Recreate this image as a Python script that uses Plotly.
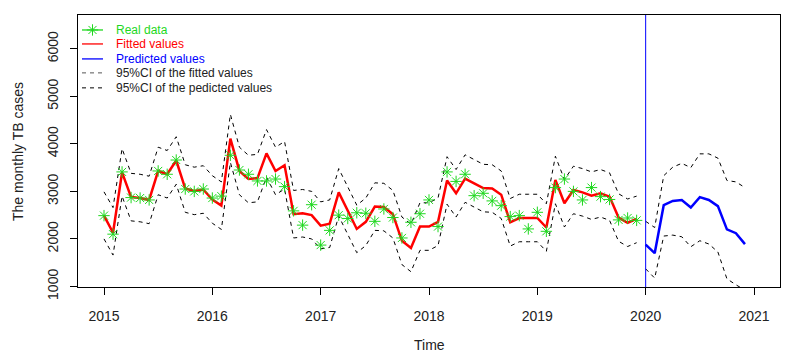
import plotly.graph_objects as go

# monthly TB cases, Jan 2015 - Dec 2019
real_cases = [2490, 2100, 3410, 2870, 2860, 2820, 3430, 3360, 3660, 3050, 3000, 3050,
              2860, 2900, 3760, 3450, 3360, 3220, 3220, 3260, 3100, 2590, 2290, 2720,
              1870, 2180, 2500, 2430, 2550, 2540, 2370, 2630, 2450, 2020, 2350, 2530,
              2820, 2260, 3410, 3210, 3360, 2910, 2960, 2800, 2700, 2470, 2490, 2210,
              2560, 2160, 3080, 3260, 3000, 2820, 3080, 2890, 2830, 2400, 2440, 2390]

fitted = [2490, 2130, 3400, 2880, 2860, 2820, 3430, 3360, 3650, 3060, 3010, 3040,
          2830, 2700, 4110, 3430, 3260, 3280, 3800, 3430, 3550, 2520, 2540, 2500,
          2280, 2320, 2980, 2580, 2210, 2360, 2680, 2670, 2520, 1960, 1810, 2260,
          2260, 2360, 3230, 2960, 3270, 3170, 3070, 3060, 2930, 2350, 2440, 2440,
          2440, 2240, 3240, 2750, 3030, 2980, 2910, 2960, 2890, 2450, 2340, 2420]

fitted_upper = [2990, 2660, 3900, 3380, 3360, 3320, 3930, 3860, 4150, 3560, 3510, 3540,
                3330, 3200, 4620, 3930, 3760, 3780, 4300, 3930, 4050, 3020, 3040, 3000,
                2780, 2820, 3480, 3080, 2710, 2860, 3180, 3170, 3020, 2460, 2310, 2760,
                2760, 2860, 3730, 3460, 3770, 3670, 3570, 3560, 3430, 2850, 2940, 2940,
                2940, 2740, 3740, 3250, 3530, 3480, 3410, 3460, 3390, 2950, 2840, 2900]

fitted_lower = [2000, 1660, 2900, 2380, 2360, 2320, 2930, 2860, 3150, 2560, 2510, 2540,
                2330, 2200, 3610, 2930, 2760, 2780, 3300, 2930, 3050, 2020, 2040, 2000,
                1790, 1820, 2480, 2080, 1710, 1860, 2180, 2170, 2020, 1460, 1310, 1760,
                1760, 1860, 2730, 2460, 2770, 2670, 2570, 2560, 2430, 1850, 1940, 1940,
                1940, 1740, 2740, 2250, 2530, 2480, 2410, 2460, 2390, 1950, 1840, 1920]

# forecast, Jan 2020 - Dec 2020
predicted = [1880, 1700, 2710, 2800, 2820, 2660, 2880, 2820, 2690, 2200, 2120, 1890]
pred_upper = [2370, 2240, 3330, 3510, 3590, 3500, 3790, 3790, 3700, 3230, 3200, 3080]
pred_lower = [1370, 1175, 2060, 2080, 2045, 1835, 1962, 1893, 1725, 1160, 1035, 920]

t_fit = [2015 + m / 12 for m in range(len(fitted))]
t_pred = [2020 + m / 12 for m in range(len(predicted))]

year_ticks = [2015, 2016, 2017, 2018, 2019, 2020, 2021]
case_ticks = [1000, 2000, 3000, 4000, 5000, 6000]

GREEN = "#1ed81e"
FONT = "Liberation Sans, Arial, sans-serif"
dash = "4px,4px"

fig = go.Figure()

for ys in (fitted_upper, fitted_lower):
    fig.add_trace(go.Scatter(x=t_fit, y=ys, mode="lines",
                             line=dict(color="black", width=1, dash=dash)))
for ys in (pred_upper, pred_lower):
    fig.add_trace(go.Scatter(x=t_pred, y=ys, mode="lines",
                             line=dict(color="black", width=1, dash=dash)))

fig.add_trace(go.Scatter(x=t_fit, y=fitted, mode="lines",
                         line=dict(color="red", width=2.5)))
fig.add_trace(go.Scatter(x=t_fit, y=real_cases, mode="markers",
                         marker=dict(symbol="asterisk", size=9.5, color=GREEN,
                                     line=dict(color=GREEN, width=1))))
fig.add_trace(go.Scatter(x=t_pred, y=predicted, mode="lines",
                         line=dict(color="blue", width=2.5)))

fig.add_vline(x=2020, line=dict(color="blue", width=1))

# hand-drawn legend (R style, no box) on an overlay axis measured in pixels
leg_rows = [15, 29, 44, 58, 73]
leg_text = ["Real data", "Fitted values", "Predicted values",
            "95%CI of the fitted values", "95%CI of the pedicted values"]
leg_col = [GREEN, "red", "blue", "#222222", "#222222"]
leg_key_col = [GREEN, "red", "blue", "#555555", "black"]
for i, (yy, txt) in enumerate(zip(leg_rows, leg_text)):
    fig.add_trace(go.Scatter(
        x=[4, 25], y=[yy, yy], mode="lines", xaxis="x2", yaxis="y2",
        line=dict(color=leg_key_col[i], width=1.3 if i < 3 else 1,
                  dash="solid" if i < 3 else dash)))
    fig.add_annotation(x=36, y=yy, xref="x2", yref="y2", text=txt, showarrow=False,
                       xanchor="left", yanchor="middle",
                       font=dict(size=12, color=leg_col[i], family=FONT))
fig.add_trace(go.Scatter(x=[14.5], y=[leg_rows[0]], mode="markers", xaxis="x2", yaxis="y2",
                         marker=dict(symbol="asterisk", size=9.5, color=GREEN,
                                     line=dict(color=GREEN, width=1))))

axis_common = dict(showgrid=False, zeroline=False, showline=True, mirror=True,
                   automargin=False,
                   linecolor="black", linewidth=1, ticks="outside", ticklen=7,
                   tickcolor="black", tickfont=dict(size=14, color="#222222", family=FONT))

# page body adds an 8px offset, so the figure is 8px smaller and shifted back
fig.update_layout(
    width=781, height=354,
    margin=dict(l=70, r=9, t=7, b=74.5),
    paper_bgcolor="white", plot_bgcolor="white",
    showlegend=False,
    xaxis=dict(range=[2014.76, 2021.24], tickvals=year_ticks, ticklabelstandoff=9,
               **axis_common),
    yaxis=dict(range=[988, 6712], tickvals=case_ticks, tickangle=-90,
               ticklabelstandoff=6, **axis_common),
    xaxis2=dict(range=[0, 702], overlaying="x", anchor="y2", visible=False),
    yaxis2=dict(range=[272.5, 0], overlaying="y", anchor="x2", visible=False),
    annotations=list(fig.layout.annotations) + [
        dict(text="Time", x=0.5, y=-0.215, xref="paper", yref="paper", showarrow=False,
             xanchor="center", yanchor="middle",
             font=dict(size=14, color="#222222", family=FONT)),
        dict(text="The monthly TB cases", x=-0.0855, y=0.5, xref="paper", yref="paper",
             showarrow=False, textangle=-90, xanchor="center", yanchor="middle",
             font=dict(size=14, color="#222222", family=FONT)),
    ],
)

fig.write_html("out.html")
